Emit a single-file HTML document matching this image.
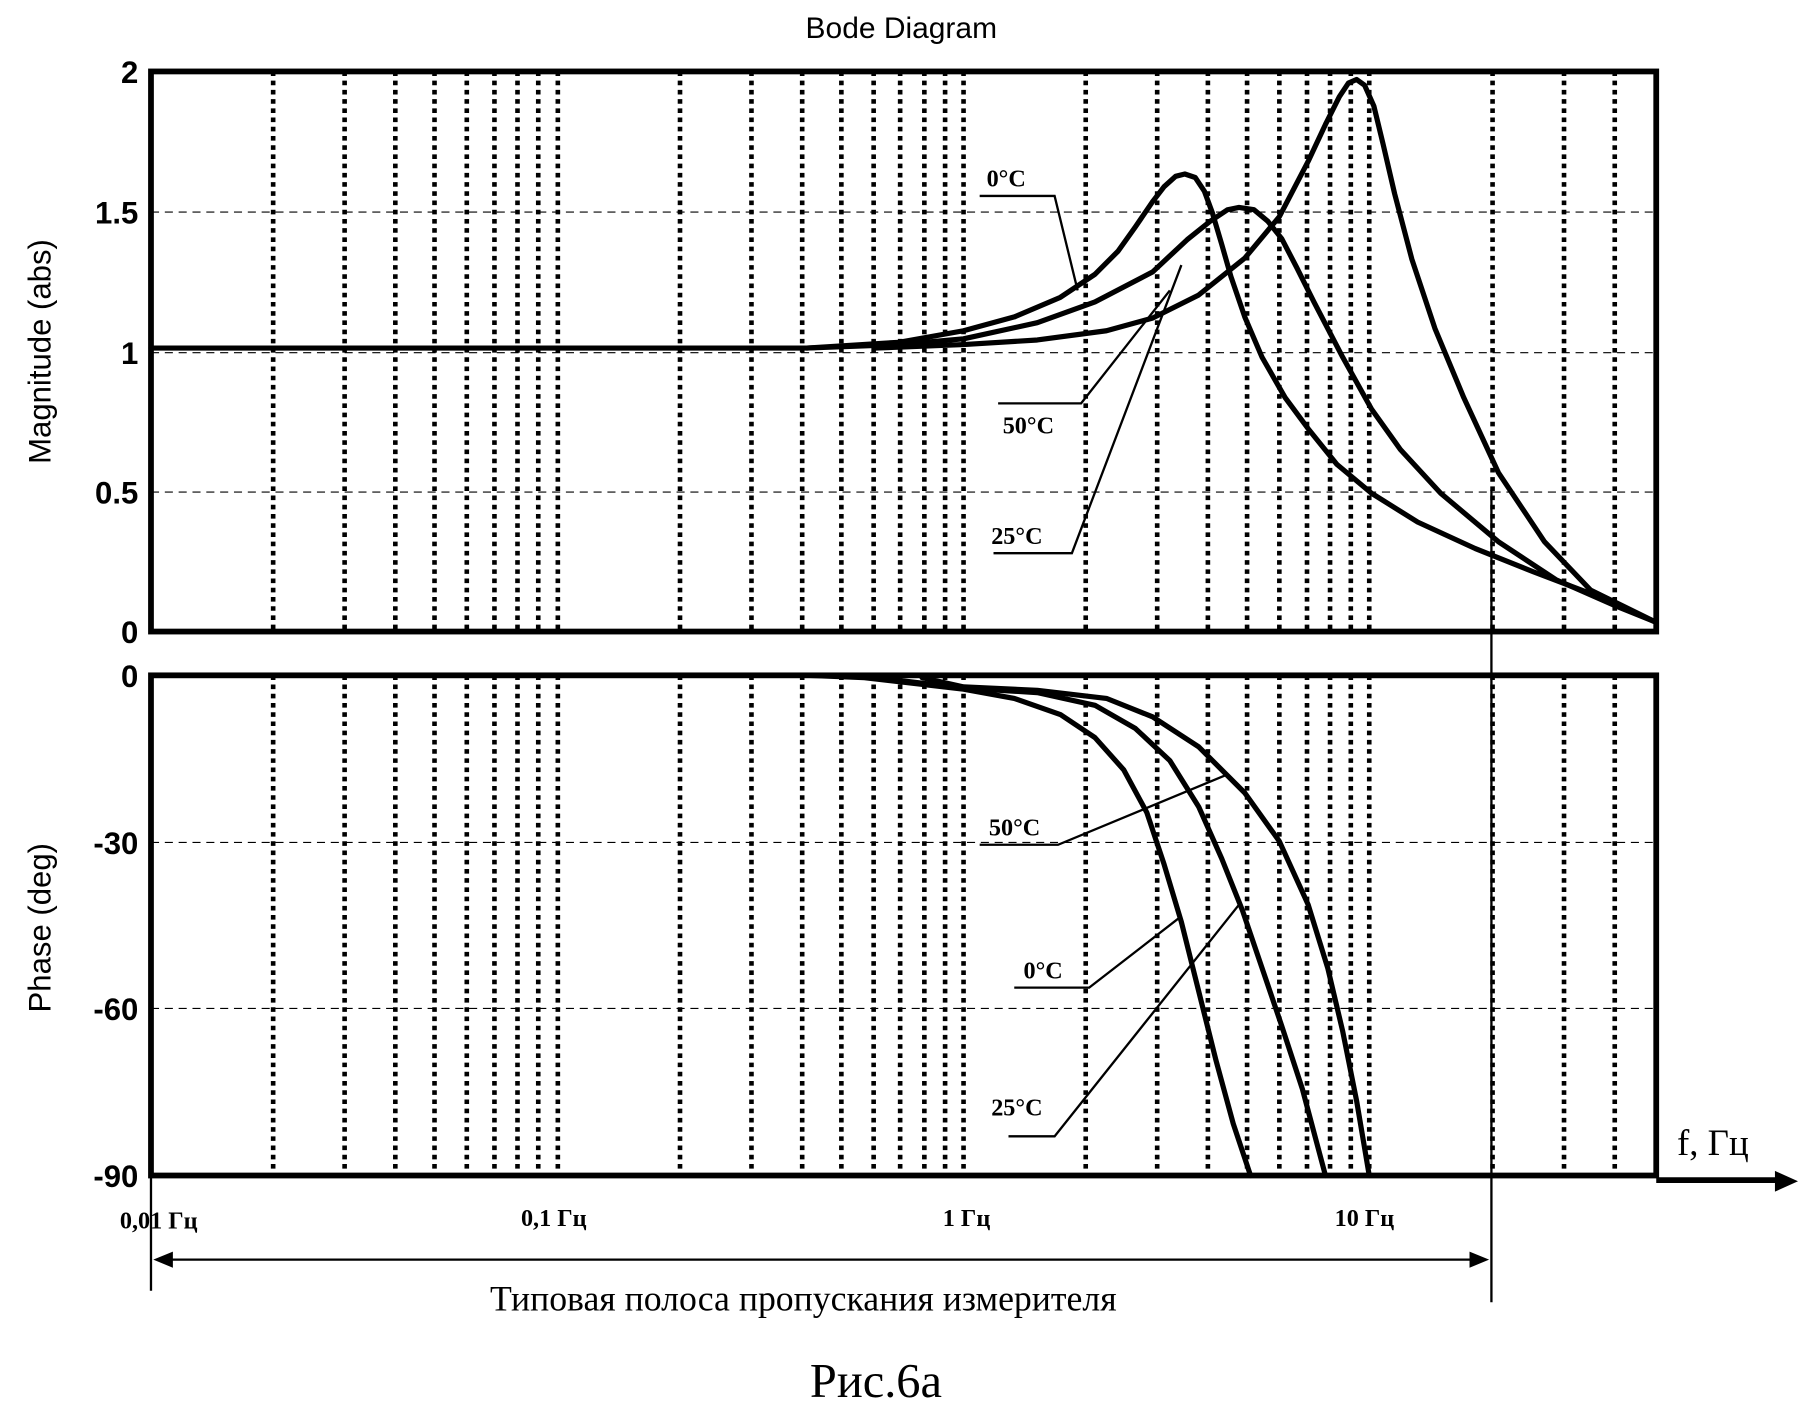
<!DOCTYPE html>
<html><head><meta charset="utf-8"><style>html,body{margin:0;padding:0;background:#fff}svg{display:block}</style></head>
<body>
<svg width="1798" height="1406" viewBox="0 0 1560 1220" preserveAspectRatio="none" xmlns="http://www.w3.org/2000/svg">
<rect width="1560" height="1220" fill="#fff"/>
<g stroke="#000" stroke-width="1" stroke-dasharray="7 5" fill="none">
<path d="M131 184H1437M131 306H1437M131 427H1437M131 731H1437M131 875H1437"/>
</g>
<g stroke="#000" stroke-width="4" stroke-dasharray="4 4" fill="none">
<path d="M237 62V548M299 62V548M343 62V548M377 62V548M405 62V548M429 62V548M449 62V548M467 62V548M484 62V548M590 62V548M652 62V548M696 62V548M730 62V548M758 62V548M781 62V548M802 62V548M820 62V548M836 62V548M942 62V548M1004 62V548M1048 62V548M1082 62V548M1110 62V548M1134 62V548M1154 62V548M1172 62V548M1188 62V548M1295 62V548M1357 62V548M1401 62V548"/>
<path d="M237 586V1020M299 586V1020M343 586V1020M377 586V1020M405 586V1020M429 586V1020M449 586V1020M467 586V1020M484 586V1020M590 586V1020M652 586V1020M696 586V1020M730 586V1020M758 586V1020M781 586V1020M802 586V1020M820 586V1020M836 586V1020M942 586V1020M1004 586V1020M1048 586V1020M1082 586V1020M1110 586V1020M1134 586V1020M1154 586V1020M1172 586V1020M1188 586V1020M1295 586V1020M1357 586V1020M1401 586V1020"/>
</g>
<g stroke="#000" stroke-width="5" fill="none">
<rect x="131" y="62" width="1306" height="486"/>
<rect x="131" y="586" width="1306" height="434"/>
<path d="M1437 1024H1545"/>
</g>
<path d="M1540 1016L1560 1025L1540 1034Z" fill="#000"/>
<g stroke="#000" stroke-width="2" fill="none">
<path d="M1294 425V1130"/>
<path d="M131 1020V1120"/>
<path d="M140 1093H1285"/>
</g>
<path d="M133 1093L150 1086L150 1100Z M1292 1093L1275 1086L1275 1100Z" fill="#000"/>
<g stroke="#000" stroke-width="4.5" fill="none" stroke-linejoin="round" stroke-linecap="round">
<polyline points="131,302 700,302 780,297 836,287 880,275 920,258 950,238 970,218 985,197 1000,175 1010,162 1020,153 1028,151 1037,154 1045,166 1052,185 1060,212 1068,240 1080,275 1095,310 1115,345 1135,372 1160,403 1190,428 1230,453 1280,476 1330,496 1380,515 1437,540"/>
<polyline points="700,302 780,299 836,294 900,280 950,262 1000,236 1030,208 1050,192 1065,182 1075,180 1088,182 1100,192 1112,207 1125,232 1140,262 1165,310 1190,355 1215,390 1250,428 1300,470 1350,503 1400,525 1437,540"/>
<polyline points="760,302 836,299 900,295 960,287 1000,276 1040,256 1080,224 1110,188 1135,140 1150,108 1162,84 1170,72 1177,69 1184,74 1192,92 1200,125 1210,168 1225,225 1245,285 1270,345 1300,410 1340,470 1380,512 1437,540"/>
<polyline points="700,586 750,588 836,598 880,606 920,620 950,640 975,668 995,705 1010,750 1025,800 1040,860 1055,920 1070,975 1085,1020"/>
<polyline points="760,588 836,597 900,601 950,612 985,632 1015,660 1040,700 1060,745 1078,790 1095,840 1112,890 1130,945 1150,1020"/>
<polyline points="800,588 836,596 900,599 960,606 1000,622 1040,648 1080,688 1110,730 1135,785 1152,840 1165,895 1177,955 1188,1020"/>
</g>
<g stroke="#000" stroke-width="2" fill="none">
<polyline points="850,170 915,170 935,252"/>
<polyline points="866,350 938,350 1015,252"/>
<polyline points="862,480 930,480 1025,230"/>
<polyline points="850,733 918,733 1065,672"/>
<polyline points="880,857 945,857 1025,795"/>
<polyline points="875,986 915,986 1075,785"/>
</g>
<g font-family="Liberation Serif, serif" font-weight="bold" font-size="21" fill="#000">
<text x="856" y="162">0°C</text>
<text x="870" y="376">50°C</text>
<text x="860" y="472">25°C</text>
<text x="858" y="725">50°C</text>
<text x="888" y="849">0°C</text>
<text x="860" y="968">25°C</text>
<text x="104" y="1066" font-size="21">0,01 Гц</text>
<text x="452" y="1064" font-size="21">0,1 Гц</text>
<text x="818" y="1064" font-size="21">1 Гц</text>
<text x="1158" y="1064" font-size="21">10 Гц</text>
</g>
<text x="1455" y="1002" font-family="Liberation Serif, serif" font-size="32">f, Гц</text>
<text x="697" y="1137" text-anchor="middle" font-family="Liberation Serif, serif" font-size="31">Типовая полоса пропускания измерителя</text>
<text x="760" y="1212" text-anchor="middle" font-family="Liberation Serif, serif" font-size="42">Рис.6а</text>
<text x="782" y="33" text-anchor="middle" font-family="Liberation Sans, sans-serif" font-size="26">Bode Diagram</text>
<g font-family="Liberation Sans, sans-serif" font-weight="bold" font-size="27" text-anchor="end" fill="#000">
<text x="120" y="72">2</text>
<text x="120" y="194">1.5</text>
<text x="120" y="316">1</text>
<text x="120" y="437">0.5</text>
<text x="120" y="558">0</text>
<text x="120" y="596">0</text>
<text x="120" y="741">-30</text>
<text x="120" y="885">-60</text>
<text x="120" y="1030">-90</text>
</g>
<g font-family="Liberation Sans, sans-serif" font-size="27" text-anchor="middle">
<text transform="translate(44,305) rotate(-90)">Magnitude (abs)</text>
<text transform="translate(44,805) rotate(-90)">Phase (deg)</text>
</g>
</svg>
</body></html>
